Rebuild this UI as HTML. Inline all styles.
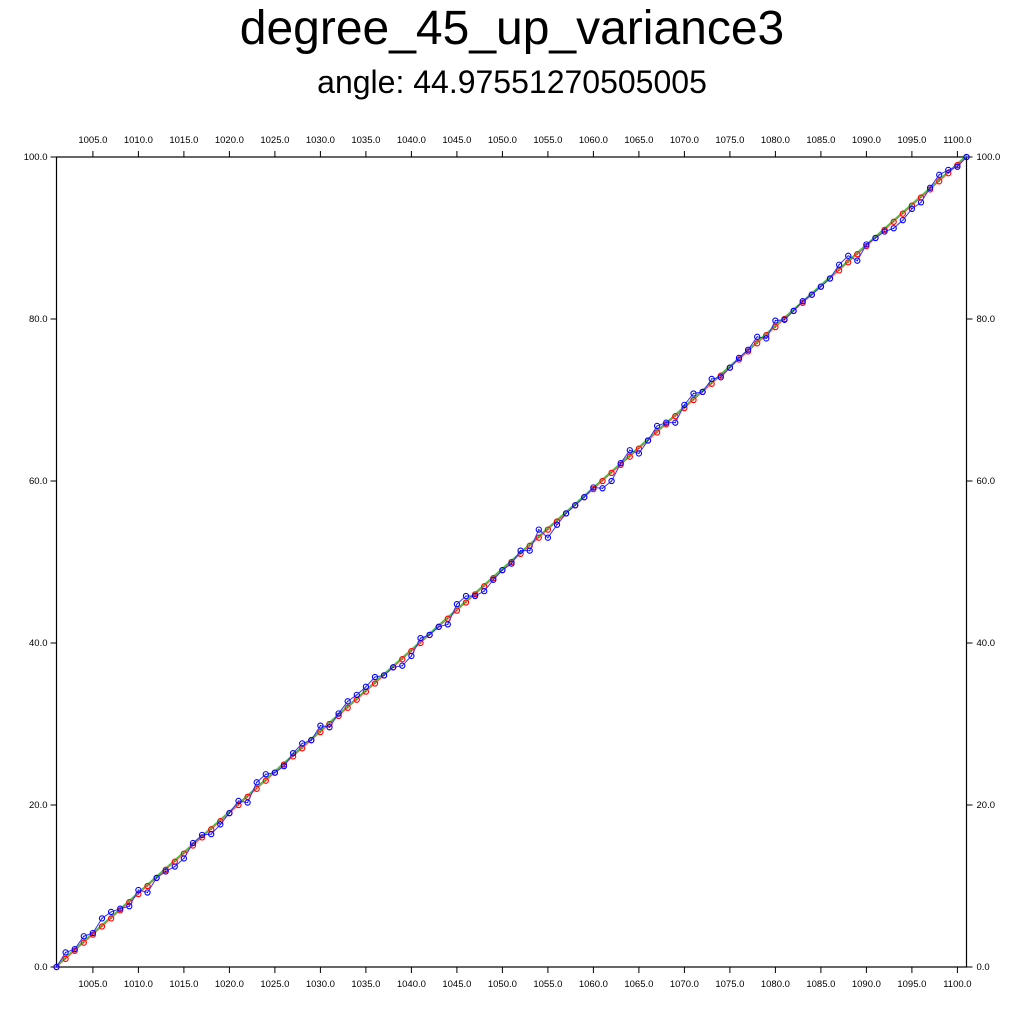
<!DOCTYPE html>
<html><head><meta charset="utf-8"><style>
body{margin:0;background:#fff;width:1024px;height:1024px;overflow:hidden;font-family:"Liberation Sans",sans-serif}
</style></head><body>
<svg width="1024" height="1024" xmlns="http://www.w3.org/2000/svg" font-family="Liberation Sans, sans-serif">
<text x="512" y="44" font-size="48" text-anchor="middle">degree_45_up_variance3</text>
<text x="512" y="93" font-size="32" text-anchor="middle">angle: 44.97551270505005</text>
<g id="axes"></g>
<g id="marks"></g>
</svg>
<script>
const xTicks=[1005,1010,1015,1020,1025,1030,1035,1040,1045,1050,1055,1060,1065,1070,1075,1080,1085,1090,1095,1100];
const yTicks=[0,20,40,60,80,100];
const blueValues=[0,1.8,2.2,3.8,4.2,6.0,6.8,7.2,7.5,9.5,9.2,11.0,11.8,12.4,13.4,15.3,16.3,16.4,17.6,19.0,20.5,20.3,22.8,23.8,24.0,24.8,26.4,27.6,28.0,29.8,29.6,31.3,32.8,33.6,34.6,35.8,36.0,37.0,37.2,38.4,40.6,41.0,42.0,42.3,44.8,45.8,45.8,46.4,47.8,49.0,49.8,51.4,51.4,54.0,53.0,54.6,56.0,57.0,58.0,59.2,59.1,60.0,62.2,63.8,63.4,65.0,66.8,67.2,67.2,69.4,70.8,71.0,72.6,72.8,74.0,75.2,76.2,77.8,77.6,79.8,79.9,81.0,82.2,83.0,84.0,85.0,86.7,87.8,87.2,89.2,90.0,90.8,91.2,92.2,93.6,94.4,96.2,97.8,98.4,98.8,100];
const redValues=[0,1,2,3,4,5,6,7,8,9,10,11,12,13,14,15,16,17,18,19,20,21,22,23,24,25,26,27,28,29,30,31,32,33,34,35,36,37,38,39,40,41,42,43,44,45,46,47,48,49,50,51,52,53,54,55,56,57,58,59,60,61,62,63,64,65,66,67,68,69,70,71,72,73,74,75,76,77,78,79,80,81,82,83,84,85,86,87,88,89,90,91,92,93,94,95,96,97,98,99,100];
const xStart=1001;
const fitLine=[[1001,0.2],[1101,100.2]];
const NS='http://www.w3.org/2000/svg';
const L=56.5,R=966.5,T=157,B=967;
const sx=v=>L+(v-1001)/(1101-1001)*(R-L);
const sy=v=>B-v/100*(B-T);
function mk(tag,attrs,parent){const e=document.createElementNS(NS,tag);for(const k in attrs)e.setAttribute(k,attrs[k]);parent.appendChild(e);return e;}
const ax=document.getElementById('axes'),mg=document.getElementById('marks');
const frame=mk('rect',{x:L,y:T,width:R-L,height:B-T,fill:'none',stroke:'#000','stroke-width':1.2},ax);


xTicks.forEach(t=>{const x=sx(t);
 mk('line',{x1:x,x2:x,y1:B,y2:B+6,stroke:'#000'},ax);
 mk('line',{x1:x,x2:x,y1:T,y2:T-6,stroke:'#000'},ax);
 const a=mk('text',{x:x,y:B+20,'font-size':9.5,'text-anchor':'middle'},ax);a.textContent=t.toFixed(1);
 
 
 const b=mk('text',{x:x,y:T-14,'font-size':9.5,'text-anchor':'middle'},ax);b.textContent=t.toFixed(1);
 
 
});
yTicks.forEach(t=>{const y=sy(t);
 mk('line',{x1:L,x2:L-6,y1:y,y2:y,stroke:'#000'},ax);
 mk('line',{x1:R,x2:R+6,y1:y,y2:y,stroke:'#000'},ax);
 const a=mk('text',{x:L-9,y:y+3,'font-size':9.5,'text-anchor':'end'},ax);a.textContent=t.toFixed(1);
 
 
 const b=mk('text',{x:R+10,y:y+3,'font-size':9.5,'text-anchor':'start'},ax);b.textContent=t.toFixed(1);
 
 
});
const g=mk('line',{x1:sx(fitLine[0][0]),y1:sy(fitLine[0][1]),x2:sx(fitLine[1][0]),y2:sy(fitLine[1][1]),stroke:'#3c3',"stroke-width":1.5},mg);


function series(vals,color,name,lc){
 const pts=vals.map((v,i)=>sx(xStart+i)+','+sy(v)).join(' ');
 const pl=mk('polyline',{points:pts,fill:'none',stroke:lc,'stroke-width':1},mg);
 
 
 vals.forEach((v,i)=>{
  const c=mk('circle',{cx:sx(xStart+i),cy:sy(v),r:2.6,fill:'none',stroke:color,'stroke-width':1.1},mg);
  
  
  mk('circle',{cx:sx(xStart+i),cy:sy(v),r:0.6,fill:color},mg);
 });
}
series(redValues,'#f00','red-series','#f55');
series(blueValues,'#00f','blue-series','#33f');
</script>
</body></html>
